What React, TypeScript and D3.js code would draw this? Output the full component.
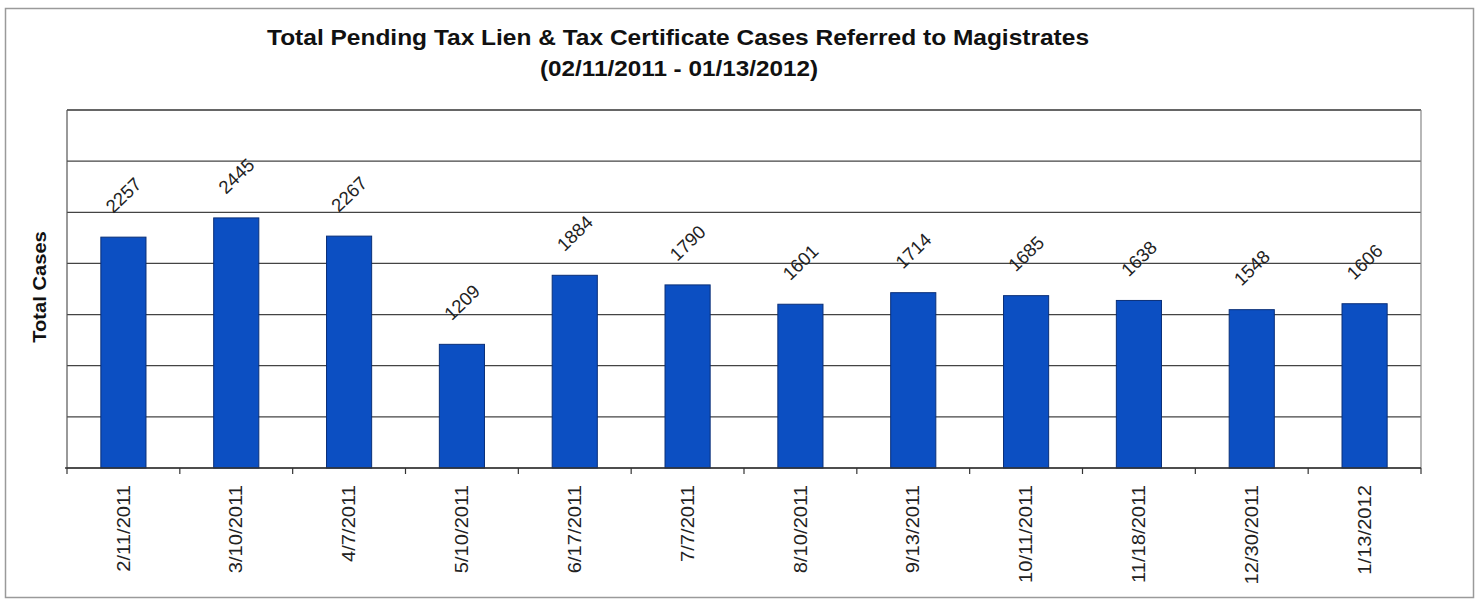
import React from "react";
import * as d3 from "d3";

const categories = [
  "2/11/2011", "3/10/2011", "4/7/2011", "5/10/2011", "6/17/2011", "7/7/2011",
  "8/10/2011", "9/13/2011", "10/11/2011", "11/18/2011", "12/30/2011", "1/13/2012",
];
const values = [2257, 2445, 2267, 1209, 1884, 1790, 1601, 1714, 1685, 1638, 1548, 1606];
const yTicks = [0, 500, 1000, 1500, 2000, 2500, 3000, 3500];
const titleLine1 = "Total Pending Tax Lien & Tax Certificate Cases Referred to Magistrates";
const titleLine2 = "(02/11/2011 - 01/13/2012)";
const yTitle = "Total Cases";

const W = 1481;
const H = 599;
const plot = { left: 67, right: 1421, top: 110, bottom: 468 };
const FONT = "'Liberation Sans', Arial, Helvetica, sans-serif";

export default function App() {
  const x = d3
    .scaleBand<string>()
    .domain(categories)
    .range([plot.left, plot.right])
    .paddingInner(0.6)
    .paddingOuter(0.3);
  const y = d3.scaleLinear().domain([0, 3500]).range([plot.bottom, plot.top]);
  const step = x.step();
  const boundaries = d3.range(categories.length + 1).map((i) => plot.left + i * step);

  return (
    <svg
      width={W}
      height={H}
      style={{ position: "absolute", left: 0, top: 0, background: "#fff" }}
      fontFamily={FONT}
    >
      <rect x={0} y={0} width={W} height={H} fill="#fff" />
      {/* outer frame */}
      <rect x={5.5} y={8.5} width={1468} height={589} fill="none" stroke="#9a9a9a" strokeWidth={1.5} />

      {/* title */}
      <text
        x={678}
        y={45}
        textAnchor="middle"
        fontWeight="bold"
        fontSize={22.5}
        fill="#111"
        textLength={822}
        lengthAdjust="spacingAndGlyphs"
      >
        {titleLine1}
      </text>
      <text
        x={679}
        y={76}
        textAnchor="middle"
        fontWeight="bold"
        fontSize={22.5}
        fill="#111"
        textLength={278}
        lengthAdjust="spacingAndGlyphs"
      >
        {titleLine2}
      </text>

      {/* gridlines */}
      {yTicks.map((t) => (
        <line
          key={t}
          x1={plot.left}
          x2={plot.right}
          y1={y(t)}
          y2={y(t)}
          stroke={t === 3500 ? "#333" : "#444"}
          strokeWidth={t === 3500 ? 1.6 : 1.2}
        />
      ))}
      {/* right border */}
      <line x1={plot.right} x2={plot.right} y1={plot.top} y2={plot.bottom} stroke="#888" strokeWidth={1.2} />
      {/* y axis */}
      <line x1={plot.left} x2={plot.left} y1={plot.top} y2={plot.bottom} stroke="#555" strokeWidth={1.2} />

      {/* bars */}
      {categories.map((c, i) => (
        <rect
          key={c}
          x={x(c)!}
          y={y(values[i])}
          width={x.bandwidth()}
          height={plot.bottom - y(values[i])}
          fill="#0c4fc2"
          stroke="#0a2f78"
          strokeWidth={1}
        />
      ))}

      {/* baseline */}
      <line x1={plot.left - 2} x2={plot.right} y1={plot.bottom} y2={plot.bottom} stroke="#333" strokeWidth={1.4} />
      {/* x tick marks */}
      {boundaries.map((bx, i) => (
        <line key={i} x1={bx} x2={bx} y1={plot.bottom} y2={plot.bottom + 6} stroke="#333" strokeWidth={1.2} />
      ))}

      {/* data labels */}
      {categories.map((c, i) => {
        const cx = x(c)! + x.bandwidth() / 2;
        const cy = y(values[i]) - 42;
        return (
          <text
            key={c}
            transform={`translate(${cx},${cy}) rotate(-44)`}
            textAnchor="middle"
            dominantBaseline="central"
            fontSize={18.5}
            fill="#222"
          >
            {values[i]}
          </text>
        );
      })}

      {/* x labels */}
      {categories.map((c) => {
        const cx = x(c)! + x.bandwidth() / 2;
        return (
          <text
            key={c}
            transform={`translate(${cx},${485}) rotate(-90) scale(1.12,1)`}
            textAnchor="end"
            dominantBaseline="central"
            fontSize={18}
            fill="#222"
          >
            {c}
          </text>
        );
      })}

      {/* y title */}
      <text
        transform={`translate(40,287) rotate(-90) scale(1.12,1)`}
        textAnchor="middle"
        dominantBaseline="central"
        fontWeight="bold"
        fontSize={18}
        fill="#111"
      >
        {yTitle}
      </text>
    </svg>
  );
}
